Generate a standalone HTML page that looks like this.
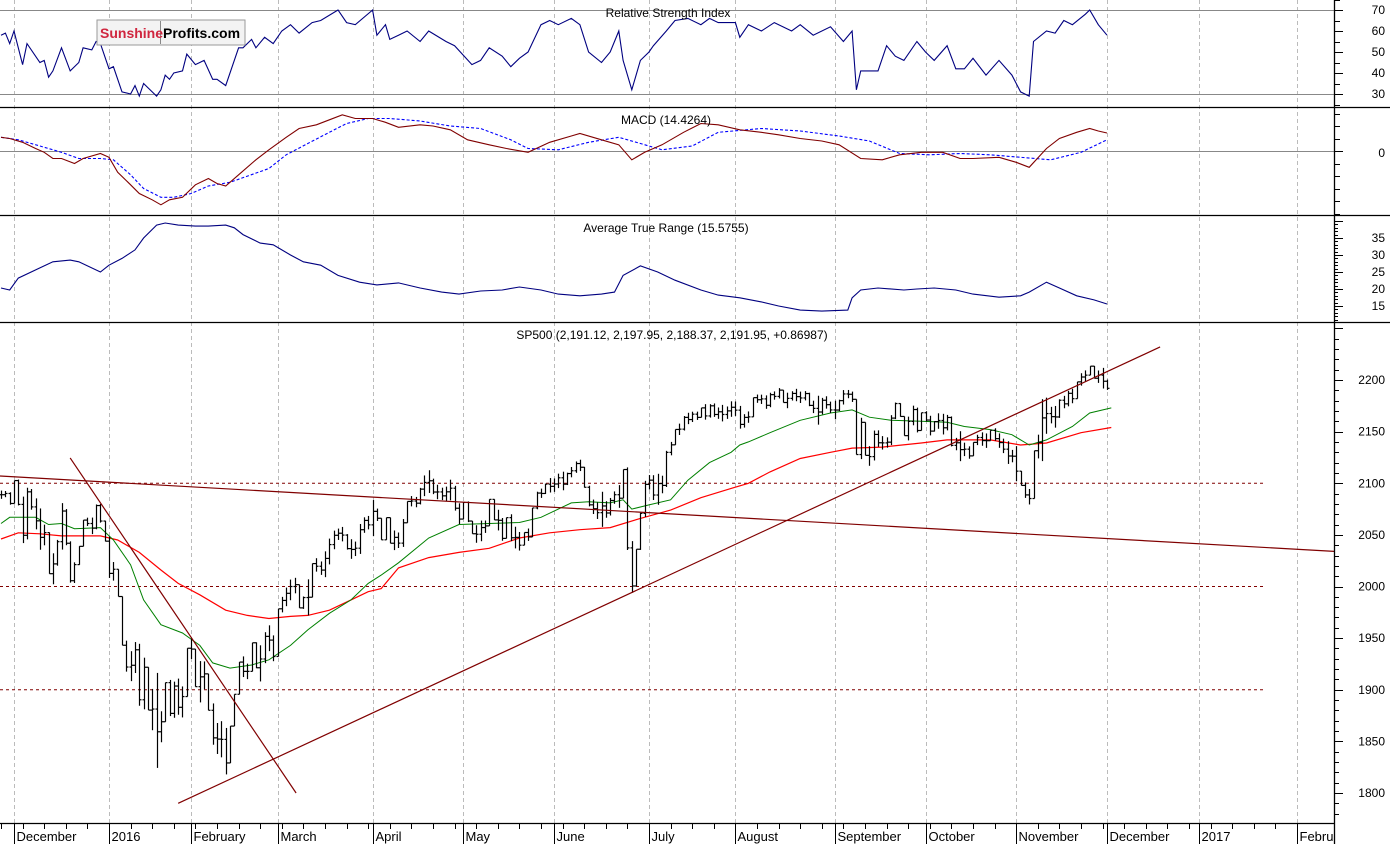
<!DOCTYPE html>
<html><head><meta charset="utf-8"><style>
html,body{margin:0;padding:0;background:#fff;}
svg{display:block;font-family:"Liberation Sans",Arial,sans-serif;}
</style></head><body>
<svg id="chart" width="1390" height="844" viewBox="0 0 1390 844" xmlns="http://www.w3.org/2000/svg">
<rect x="0" y="0" width="1390" height="844" fill="#fff"/>
<g id="grid"></g>
<g id="rsi"></g>
<g id="macd"></g>
<g id="atr"></g>
<g id="price"></g>
<g id="axes"></g>
<g>
<rect x="97" y="20" width="148" height="25" fill="#f3f3f3" stroke="#999"/>
<line x1="160.5" y1="21" x2="160.5" y2="44" stroke="#888"/>
<text x="100" y="38" font-size="14" font-weight="bold" fill="#d0263f">Sunshine</text>
<text x="163" y="38" font-size="14" font-weight="bold" fill="#000">Profits.com</text>
</g>
<text x="668" y="17" font-size="12" text-anchor="middle">Relative Strength Index</text>
<text x="666" y="124" font-size="12" text-anchor="middle">MACD (14.4264)</text>
<text x="666" y="232" font-size="12" text-anchor="middle">Average True Range (15.5755)</text>
<text x="672" y="339" font-size="12" text-anchor="middle">SP500 (2,191.12, 2,197.95, 2,188.37, 2,191.95, +0.86987)</text>
</svg>
<script>
// ---- price data (first bar = Nov 25 2015, day -3) ----
const closes = [2088.9,2090.1,2080.4,
2102.6,2079.5,2049.6,2091.7,2077.1,2063.6,2047.6,2052.2,2012.4,2021.9,2043.4,2073.1,2041.9,2005.6,2021.2,2038.9,2064.3,2061.0,2056.5,2078.4,2063.4,2043.9,
2012.7,2016.7,1990.3,1943.1,1922.0,1923.7,1938.7,1890.3,1921.8,1880.3,1881.3,1859.3,1869.0,1906.9,1877.1,1903.6,1883.0,1893.4,1940.2,
1939.4,1903.0,1912.5,1915.4,1880.1,1853.4,1852.2,1851.9,1829.1,1864.8,1895.6,1926.8,1917.8,1917.8,1945.5,1921.3,1929.8,1951.7,1948.1,1932.2,
1978.4,1986.5,1993.4,2000.0,2001.8,1979.3,1989.3,1989.6,2022.2,2019.6,2015.9,2027.2,2040.6,2049.6,2051.6,2049.8,2036.7,2035.9,2037.1,2055.0,2064.0,2059.7,
2072.8,2066.1,2045.2,2066.7,2041.9,2047.6,2042.0,2061.7,2082.4,2082.8,2080.7,2094.3,2100.8,2102.4,2091.5,2091.6,2087.8,2091.7,2095.2,2075.8,2065.3,
2081.4,2063.4,2051.1,2050.6,2057.1,2058.7,2084.4,2064.5,2064.1,2046.6,2066.7,2047.2,2047.6,2040.0,2052.3,2048.0,2076.1,2090.5,2090.1,2099.1,2097.0,
2099.3,2105.3,2099.1,2109.4,2112.1,2119.1,2115.5,2096.1,2079.1,2075.3,2071.5,2078.0,2071.2,2083.3,2088.9,2085.5,2113.3,2037.4,2000.5,2036.1,2070.8,2098.9,
2103.0,2088.6,2099.7,2097.9,2129.9,2137.2,2152.1,2152.4,2163.8,2161.7,2166.9,2163.8,2173.0,2165.2,2175.0,2166.6,2169.2,2166.6,2170.1,2173.6,
2170.8,2157.0,2163.8,2164.3,2182.9,2180.9,2181.7,2175.5,2185.8,2184.1,2190.2,2178.2,2182.2,2187.0,2183.9,2182.6,2186.9,2175.4,2172.5,2169.0,2180.4,2176.1,2171.0,
2170.9,2180.0,2186.5,2186.2,2181.3,2127.8,2159.0,2127.0,2125.8,2147.3,2139.2,2139.1,2139.8,2163.1,2177.2,2164.7,2146.1,2159.9,2171.4,2151.1,2168.3,
2161.2,2150.5,2159.7,2160.8,2153.7,2163.7,2136.7,2139.2,2132.6,2133.0,2126.5,2139.6,2144.3,2141.3,2141.2,2151.3,2143.2,2139.4,2133.0,2126.4,2126.2,
2111.7,2097.9,2088.7,2085.2,2131.5,2139.6,2163.3,2167.5,2164.5,2164.2,2180.4,2176.9,2187.1,2181.9,2198.2,2202.9,2204.7,2213.4,2201.7,2204.7,2198.8,
2191.95];
const spans = [8,6,12,
20,25,45,50,20,30,40,20,40,30,25,45,35,40,20,18,22,8,16,24,18,20,
40,18,26,40,30,29,30,60,50,30,40,92,30,30,35,35,35,30,45,
20,33,40,27,35,40,30,35,45,35,25,30,20,15,25,25,35,30,25,25,
45,15,18,20,15,22,12,35,20,13,13,25,25,18,11,14,15,19,14,29,15,13,
35,12,15,20,20,19,15,27,19,10,10,16,20,22,15,14,12,14,20,24,20,
16,20,12,17,20,12,25,20,20,22,20,26,21,18,12,12,28,17,9,10,14,
13,14,18,12,10,11,11,20,20,14,16,34,16,17,12,22,26,80,50,35,36,35,
14,24,30,17,35,13,14,11,14,11,10,8,9,15,13,13,11,16,12,15,
14,22,13,11,17,8,9,13,14,8,10,12,15,9,12,11,9,13,12,28,16,12,11,
18,11,14,8,10,53,40,28,19,29,16,13,10,29,16,13,14,23,19,24,16,
10,19,10,15,20,15,29,12,29,13,12,12,10,13,14,9,12,14,14,22,12,
34,14,15,15,33,23,60,35,16,21,18,12,15,14,16,12,11,6,12,12,20,
10];
// ---- moving averages (day index, value) ----
const ma20Days = [-3,-1,5,8,11,14,20,23,27,30,34,39,43,46,50,55,59,64,68,73,78,82,85,89,96,103,110,117,122,129,133,138,141,143,147,152,156,161,166,168,170,175,182,189,194,198,203,210,216,220,226,231,235,239,245,249,254];
const ma20Vals = [2061,2067,2067,2060,2061,2056,2057,2045,2021,1987,1963,1955,1943,1926,1921,1924,1929,1943,1958,1974,1987,2003,2011,2023,2047,2060,2061,2062,2067,2081,2082,2081,2084,2075,2079,2084,2103,2120,2130,2137,2140,2149,2161,2168,2171,2164,2161,2160,2159,2155,2152,2147,2137,2142,2155,2168,2173];
const ma50Days = [-3,1,6,11,15,20,24,29,34,38,43,49,54,59,64,68,73,78,82,85,89,96,103,110,117,124,131,138,145,152,159,166,170,175,182,189,194,201,210,216,226,233,239,247,254];
const ma50Vals = [2046,2052,2051,2049,2049,2049,2045,2033,2016,2003,1992,1977,1972,1969,1971,1972,1977,1987,1995,1998,2018,2028,2033,2037,2047,2052,2055,2057,2066,2074,2086,2095,2100,2111,2124,2130,2134,2135,2139,2142,2142,2137,2139,2149,2154];
// ---- trend lines [day, price] ----
const trendLines = [[[-3.24,2107],[305.6,2034]],[[13,2124.5],[65.3,1800]],[[38,1790],[265.3,2232]]];
const hLevels = [2100,2000,1900];
const priceTicks = [2200,2150,2100,2050,2000,1950,1900,1850,1800];
// ---- RSI ----
const rsiDays = [-3,-2,-1,0,2,3,6,7,8,9,11,13,15,16,18,19,20,22,23,25,27,28,29,30,32,33,34,35,36,37,39,40,42,43,44,46,47,49,52,53,55,56,58,60,62,64,66,69,71,75,77,79,83,84,86,87,89,91,94,96,100,102,106,108,110,113,115,117,119,122,124,126,129,131,133,136,138,140,141,143,145,147,148,151,153,156,159,161,163,167,168,170,173,176,180,182,185,189,192,194,195,196,198,200,202,204,206,209,211,213,216,218,220,222,225,228,231,233,235,236,239,241,243,245,248,249,251,253];
const rsiVals = [58,59,54,60,44,54,45,46,38,41,52,41,45,52,51,55,54,42,43,31,30,34,29,35,31,29,32,39,37,40,41,49,44,45,46,37,37,34,52,52,56,52,57,54,60,63,59,64,65,70,64,63,70,58,63,56,58,60,55,60,55,53,44,46,52,48,43,47,50,63,65,63,66,63,50,45,50,60,46,32,46,50,53,60,65,66,63,66,64,64,57,63,60,64,60,63,58,62,55,60,32,41,41,41,53,48,46,55,50,46,53,42,42,47,39,46,39,31,29,55,60,59,65,63,68,70,63,58];
const rsiTicks = [70,60,50,40,30];
// ---- MACD ----
const macdDays = [-3,-1,2,5,7,9,11,14,16,20,22,24,27,29,32,34,36,39,42,45,47,49,52,56,59,63,66,70,73,76,79,83,86,89,94,97,101,105,110,114,119,124,129,131,136,140,143,146,150,155,159,163,168,173,177,182,187,191,196,201,205,210,215,219,222,228,232,235,239,242,246,249,251,253];
const macdVals = [11,10,7,2,-1,-6,-6,-10,-6,-2,-5,-17,-27,-34,-39,-43,-39,-37,-27,-22,-26,-28,-19,-7,1,11,18,21,25,29,26,26,23,19,21,20,17,9,5,2,-1,7,12,14,9,5,-7,-1,5,15,22,21,17,15,13,10,8,5,-6,-7,-3,-1,-1,-6,-6,-5,-9,-13,2,10,15,18,16,14.4];
const signalDays = [-3,1,6,11,15,20,23,27,30,34,37,41,45,50,59,63,68,73,77,82,87,94,101,108,115,119,126,133,140,145,150,157,163,173,182,191,198,205,212,219,226,233,240,247,253];
const signalVals = [11,9,4,-1,-6,-6,-7,-19,-30,-37,-37,-34,-28,-25,-14,-3,6,15,22,26,26,24,20,18,9,2,1,7,11,6,1,4,15,18,16,12,8,-2,-3,-2,-3,-5,-7,-1,9,14];
// ---- ATR ----
const atrDays = [-3,-1,1,6,9,13,15,20,22,25,28,30,33,35,38,42,45,49,51,53,57,60,64,67,71,75,80,84,89,94,99,103,108,113,117,122,126,131,136,139,141,145,149,153,159,163,168,173,177,182,187,193,194,196,200,206,209,213,218,222,228,233,235,239,242,246,250,253];
const atrVals = [20.3,19.7,23.2,26.2,28,28.5,28,25,27,29,31.5,35,38.8,39.4,38.8,38.5,38.5,38.8,38,36,33.5,33,30,28,27,24,22,21.2,21.8,20.3,19.1,18.5,19.4,19.7,20.6,19.7,18.5,18,18.5,19.1,24,26.8,25,22.6,19.7,18.2,17.4,16.2,15,13.8,13.5,13.8,17.4,19.7,20.3,19.7,20,20.3,19.7,18.5,17.6,18,19.1,22,20.3,18,16.8,15.6];
const atrTicks = [35,30,25,20,15];
// ---- x axis ----
const monthLabels = ["December","2016","February","March","April","May","June","July","August","September","October","November","December","2017","Febru"];
const monthDays = [0,22,41,61,83,104,125,147,167,190,211,232,253,274.2,297];

const NS="http://www.w3.org/2000/svg";
const AX=1334, BOT=823;
const X = d => 14 + d*4.32;
const PY = v => 380 + (2200-v)*1.0325;
const RY = v => 10 + (70-v)*2.1;
const MY = v => 151 - v*1.25;
const AY = v => 238 + (35-v)*3.4;
function mk(tag, attrs, parent){const e=document.createElementNS(NS,tag);for(const k in attrs)e.setAttribute(k,attrs[k]);parent.appendChild(e);return e;}
const grid=document.getElementById('grid'), gR=document.getElementById('rsi'), gM=document.getElementById('macd'), gA=document.getElementById('atr'), gP=document.getElementById('price'), gX=document.getElementById('axes');

monthDays.forEach((d,i)=>{
  const x=Math.round(X(d))+0.5;
  const l=mk('line',{x1:x,y1:0,x2:x,y2:BOT,stroke:'#bbb','stroke-dasharray':'4,3'},grid);
  
  
});
function poly(g, days, vals, yf, attrs, name){
  const pts=days.map((d,i)=>X(d).toFixed(1)+','+yf(vals[i]).toFixed(1)).join(' ');
  const p=mk('polyline',Object.assign({points:pts,fill:'none'},attrs),g);
  
  
}
[70,30].forEach(v=>{const l=mk('line',{x1:0,y1:RY(v)+0.5,x2:AX,y2:RY(v)+0.5,stroke:'#888'},gR);
  
  });
poly(gR,rsiDays,rsiVals,RY,{stroke:'#000080','stroke-width':1.1},'rsi-line');
{const l=mk('line',{x1:0,y1:151.5,x2:AX,y2:151.5,stroke:'#888'},gM);
 
 }
poly(gM,signalDays,signalVals,MY,{stroke:'#0000ff','stroke-width':1.1,'stroke-dasharray':'3,2'},'macd-signal-line');
poly(gM,macdDays,macdVals,MY,{stroke:'#800000','stroke-width':1.1},'macd-line');
poly(gA,atrDays,atrVals,AY,{stroke:'#000080','stroke-width':1.1},'atr-line');
hLevels.forEach(v=>{const l=mk('line',{x1:0,y1:PY(v),x2:1265,y2:PY(v),stroke:'#800000','stroke-dasharray':'3,3'},gP);
  
  });
poly(gP,ma50Days,ma50Vals,PY,{stroke:'#ff0000','stroke-width':1.2},'ma-50-line');
poly(gP,ma20Days,ma20Vals,PY,{stroke:'#008000','stroke-width':1},'ma-20-line');
closes.forEach((c,i)=>{
  const o = i>0 ? closes[i-1] : c;
  const body=Math.abs(c-o), ext=Math.max(0,(spans[i]-body)/2);
  const hi=Math.max(o,c)+ext, lo=Math.min(o,c)-ext;
  const x=Math.round(X(i-3))+0.5;
  const g=mk('g',{stroke:'#000','stroke-width':1.2},gP);
  
  
  mk('line',{x1:x,y1:PY(hi),x2:x,y2:PY(lo)},g);
  mk('line',{x1:x-2,y1:PY(o),x2:x,y2:PY(o)},g);
  mk('line',{x1:x,y1:PY(c),x2:x+2,y2:PY(c)},g);
});
trendLines.forEach((t,i)=>{
  const l=mk('line',{x1:X(t[0][0]),y1:PY(t[0][1]),x2:X(t[1][0]),y2:PY(t[1][1]),stroke:'#800000','stroke-width':1.2},gP);
  
  
});
[[0,107.5,1390,107.5],[0,215.5,1390,215.5],[0,322.5,1390,322.5],[0,BOT+0.5,AX,BOT+0.5],[AX+0.5,0,AX+0.5,844]].forEach(a=>{
  const l=mk('line',{x1:a[0],y1:a[1],x2:a[2],y2:a[3],stroke:'#000','stroke-width':1.3},gX);
  
  
});
function tick(y,len){mk('line',{x1:AX,y1:y+0.5,x2:AX+len,y2:y+0.5,stroke:'#000'},gX);}
function label(txt,y,name){const t=mk('text',{x:1385,y:y+4,'font-size':12,'text-anchor':'end'},gX);t.textContent=txt;
  
  }
for(let v=25;v<=75;v+=5) tick(Math.round(RY(v)), v%10===0?9:6);
rsiTicks.forEach(v=>label(String(v),RY(v),'rsi-tick-label'));
for(let v=-50;v<=40;v+=10){const y=Math.round(MY(v)); if(y>108&&y<215) tick(y, v===0?9:6);}
label('0',MY(0)+2,'macd-tick-label');
for(let v=11;v<=40;v+=1){const y=Math.round(AY(v)); if(y>216&&y<322) tick(y, v%5===0?9:4);}
atrTicks.forEach(v=>label(String(v),AY(v),'atr-tick-label'));
for(let v=1780;v<=2250;v+=10){const y=Math.round(PY(v)); if(y>323&&y<823) tick(y, v%50===0?9:5);}
priceTicks.forEach(v=>label(String(v),PY(v),'price-tick-label'));
for(let d=-3;d<300;d+=5){const x=Math.round(X(d))+0.5; if(x<AX) mk('line',{x1:x,y1:BOT,x2:x,y2:BOT+6,stroke:'#000'},gX);}
monthDays.forEach((d,i)=>{
  const x=Math.round(X(d))+0.5;
  mk('line',{x1:x,y1:BOT,x2:x,y2:844,stroke:'#000'},gX);
  const t=mk('text',{x:x+2,y:841,'font-size':13},gX);
  t.textContent=monthLabels[i];
  
  
});
</script>
</body></html>
